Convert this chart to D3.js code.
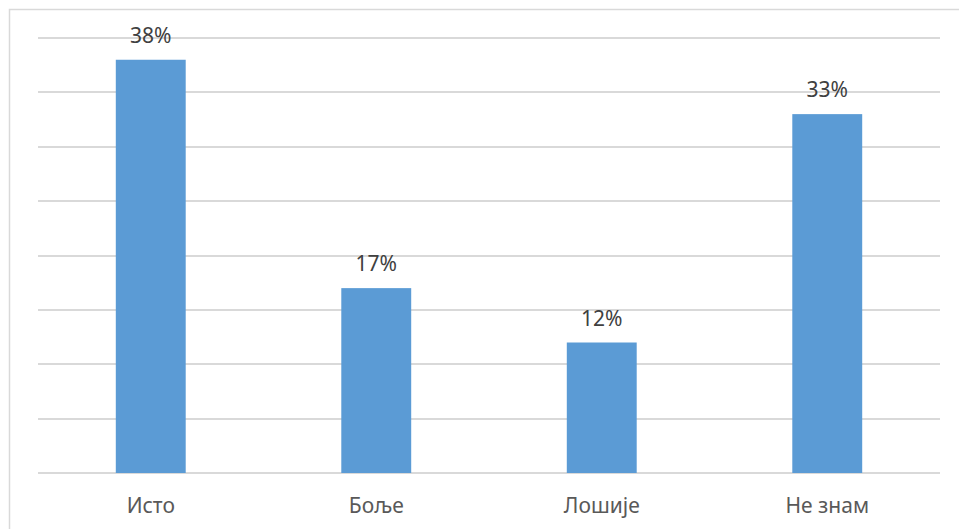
<!DOCTYPE html>
<html>
<head>
<meta charset="utf-8">
<script src="https://cdn.jsdelivr.net/npm/d3@7"></script>
<style>
  body { margin: 0; background: #fff; }
  svg { display: block; font-family: "Noto Sans", "Open Sans", sans-serif; }
</style>
</head>
<body>
<svg id="chart"></svg>
<script>
// podaci
var categories = ["Исто", "Боље", "Лошије", "Не знам"];
var values = [38, 17, 12, 33];
var yTicks = [0, 5, 10, 15, 20, 25, 30, 35, 40];

var W = 959, H = 529;
var margin = { top: 38, right: 19, bottom: 56, left: 38 };
var width = W - margin.left - margin.right;
var height = H - margin.top - margin.bottom;

var svg = d3.select("#chart")
    .attr("width", W)
    .attr("height", H);

// okvir grafikona
svg.append("rect")
    .attr("x", 9.5)
    .attr("y", 9.5)
    .attr("width", W)
    .attr("height", H)
    .attr("fill", "none")
    .attr("stroke", "#d9d9d9")
    .attr("stroke-width", 1.5);

var g = svg.append("g")
    .attr("transform", "translate(" + margin.left + "," + margin.top + ")");

var x = d3.scaleBand()
    .domain(categories)
    .range([0, width])
    .paddingInner(0.69)
    .paddingOuter(0.345);

var y = d3.scaleLinear()
    .domain([0, 40])
    .range([height, 0]);

// linije mreze
g.selectAll(".grid")
    .data(yTicks)
    .enter().append("line")
    .attr("class", "grid")
    .attr("x1", 0)
    .attr("x2", width)
    .attr("y1", function(d) { return Math.round(y(d)); })
    .attr("y2", function(d) { return Math.round(y(d)); })
    .attr("stroke", "#d9d9d9")
    .attr("stroke-width", 2);

// stubici
g.selectAll(".bar")
    .data(values)
    .enter().append("rect")
    .attr("class", "bar")
    .attr("x", function(d, i) { return x(categories[i]); })
    .attr("y", function(d) { return y(d); })
    .attr("width", x.bandwidth())
    .attr("height", function(d) { return height - y(d); })
    .attr("fill", "#5b9bd5");

// vrednosti
g.selectAll(".val")
    .data(values)
    .enter().append("text")
    .attr("class", "val")
    .attr("x", function(d, i) { return x(categories[i]) + x.bandwidth() / 2; })
    .attr("y", function(d) { return y(d) - 17; })
    .attr("text-anchor", "middle")
    .attr("font-size", 21)
    .attr("fill", "#404040")
    .text(function(d) { return d + "%"; });

// x osa
var xAxis = d3.axisBottom(x).tickSize(0).tickPadding(0);
var ax = g.append("g")
    .attr("transform", "translate(0," + height + ")")
    .call(xAxis);
ax.select(".domain").remove();
ax.selectAll("text")
    .attr("dy", 0)
    .attr("y", 40)
    .attr("font-size", 21)
    .attr("font-family", "\"Noto Sans\", \"Open Sans\", sans-serif")
    .attr("fill", "#595959");
</script>
</body>
</html>
